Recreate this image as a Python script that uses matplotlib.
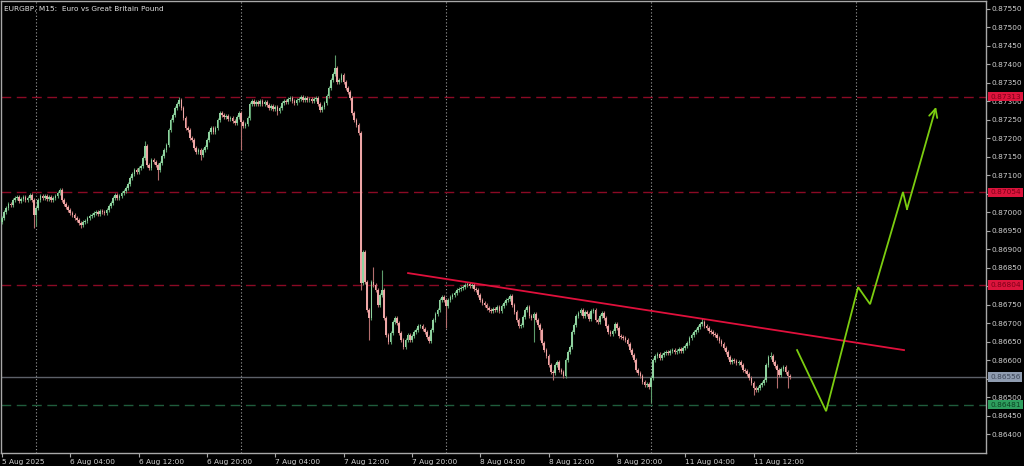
import numpy as np
import matplotlib
matplotlib.use("Agg")
import matplotlib.pyplot as plt

# ---------------- data (EURGBP M15 closes) ----------------
first_open = 0.86975
closes = [
    # 5 Aug 20:00 - 23:45
    0.86985, 0.87001, 0.87012, 0.87023, 0.87020, 0.87033, 0.87039, 0.87042,
    0.87031, 0.87036, 0.87042, 0.87033, 0.87039, 0.87047, 0.87033, 0.86993,
    # 6 Aug 00:00 - 07:45
    0.87012, 0.87033, 0.87044, 0.87039, 0.87044, 0.87036, 0.87042, 0.87033,
    0.87039, 0.87044, 0.87052, 0.87060, 0.87033, 0.87023, 0.87015, 0.87006,
    0.86998, 0.86993, 0.86985, 0.86979, 0.86971, 0.86966, 0.86974, 0.86977,
    0.86985, 0.86990, 0.86993, 0.86998, 0.87001, 0.86996, 0.87004, 0.87001,
    # 6 Aug 08:00 - 15:45
    0.86998, 0.87006, 0.87017, 0.87025, 0.87039, 0.87047, 0.87039, 0.87044,
    0.87052, 0.87058, 0.87066, 0.87077, 0.87093, 0.87104, 0.87115, 0.87109,
    0.87120, 0.87125, 0.87147, 0.87179, 0.87128, 0.87120, 0.87142, 0.87136,
    0.87128, 0.87115, 0.87133, 0.87152, 0.87169, 0.87182, 0.87223, 0.87250,
    # 6 Aug 16:00 - 23:45
    0.87263, 0.87282, 0.87293, 0.87304, 0.87282, 0.87255, 0.87228, 0.87223,
    0.87201, 0.87196, 0.87174, 0.87163, 0.87169, 0.87155, 0.87169, 0.87177,
    0.87196, 0.87217, 0.87228, 0.87217, 0.87228, 0.87250, 0.87269, 0.87263,
    0.87258, 0.87260, 0.87252, 0.87255, 0.87247, 0.87242, 0.87258, 0.87269,
    # 7 Aug 00:00 - 07:45
    0.87244, 0.87233, 0.87239, 0.87255, 0.87293, 0.87301, 0.87293, 0.87298,
    0.87293, 0.87301, 0.87293, 0.87298, 0.87290, 0.87282, 0.87288, 0.87279,
    0.87285, 0.87274, 0.87282, 0.87296, 0.87301, 0.87298, 0.87306, 0.87309,
    0.87301, 0.87296, 0.87304, 0.87306, 0.87312, 0.87304, 0.87309, 0.87304,
    # 7 Aug 08:00 - 15:45
    0.87306, 0.87301, 0.87306, 0.87309, 0.87293, 0.87277, 0.87285, 0.87296,
    0.87315, 0.87336, 0.87358, 0.87374, 0.87390, 0.87352, 0.87358, 0.87371,
    0.87352, 0.87336, 0.87325, 0.87309, 0.87269, 0.87250, 0.87236, 0.87215,
    0.86809, 0.86893, 0.86812, 0.86736, 0.86715, 0.86812, 0.86804, 0.86790,
    # 7 Aug 16:00 - 23:45
    0.86750, 0.86777, 0.86790, 0.86715, 0.86669, 0.86650, 0.86674, 0.86704,
    0.86715, 0.86701, 0.86674, 0.86655, 0.86636, 0.86655, 0.86669, 0.86655,
    0.86666, 0.86677, 0.86682, 0.86693, 0.86693, 0.86685, 0.86677, 0.86663,
    0.86652, 0.86682, 0.86709, 0.86725, 0.86736, 0.86763, 0.86771, 0.86763,
    # 8 Aug 00:00 - 07:45
    0.86747, 0.86763, 0.86771, 0.86777, 0.86782, 0.86790, 0.86793, 0.86796,
    0.86798, 0.86804, 0.86806, 0.86801, 0.86804, 0.86793, 0.86790, 0.86777,
    0.86763, 0.86755, 0.86750, 0.86742, 0.86736, 0.86733, 0.86739, 0.86736,
    0.86744, 0.86733, 0.86747, 0.86755, 0.86763, 0.86766, 0.86774, 0.86750,
    # 8 Aug 08:00 - 15:45
    0.86731, 0.86709, 0.86693, 0.86696, 0.86717, 0.86736, 0.86744, 0.86720,
    0.86715, 0.86725, 0.86709, 0.86696, 0.86682, 0.86647, 0.86628, 0.86612,
    0.86588, 0.86569, 0.86566, 0.86588, 0.86596, 0.86574, 0.86569, 0.86558,
    0.86601, 0.86623, 0.86636, 0.86677, 0.86696, 0.86720, 0.86728, 0.86736,
    # 8 Aug 16:00 - 23:45
    0.86720, 0.86731, 0.86725, 0.86712, 0.86733, 0.86736, 0.86709, 0.86704,
    0.86720, 0.86728, 0.86715, 0.86693, 0.86677, 0.86671, 0.86679, 0.86698,
    0.86688, 0.86666, 0.86663, 0.86660, 0.86655, 0.86644, 0.86628, 0.86615,
    0.86601, 0.86574, 0.86566, 0.86558, 0.86542, 0.86533, 0.86536, 0.86528,
    # 11 Aug 00:00 - 07:45
    0.86552, 0.86601, 0.86612, 0.86617, 0.86606, 0.86615, 0.86620, 0.86623,
    0.86620, 0.86625, 0.86628, 0.86623, 0.86625, 0.86631, 0.86625, 0.86633,
    0.86639, 0.86647, 0.86660, 0.86669, 0.86677, 0.86682, 0.86690, 0.86698,
    0.86704, 0.86693, 0.86688, 0.86679, 0.86677, 0.86671, 0.86669, 0.86660,
    # 11 Aug 08:00 - 16:15
    0.86652, 0.86644, 0.86633, 0.86623, 0.86609, 0.86596, 0.86601, 0.86598,
    0.86593, 0.86596, 0.86588, 0.86574, 0.86571, 0.86563, 0.86552, 0.86539,
    0.86525, 0.86520, 0.86525, 0.86533, 0.86539, 0.86547, 0.86588, 0.86609,
    0.86612, 0.86596, 0.86585, 0.86574, 0.86560, 0.86577, 0.86582, 0.86569,
    0.86558, 0.86556,
]

# bars whose wick reaches further than usual: {bar index: price}
spike_high = {27: 0.87066, 67: 0.87193, 83: 0.87312, 156: 0.87425,
              174: 0.86852, 178: 0.86844, 328: 0.86715, 360: 0.86623}
spike_low = {15: 0.86958, 16: 0.86963, 37: 0.86958, 73: 0.87088, 93: 0.87142,
             112: 0.87169, 129: 0.87263, 168: 0.86790, 172: 0.86655,
             208: 0.86688, 249: 0.86650, 252: 0.86655, 258: 0.86547,
             304: 0.86485, 352: 0.86507, 363: 0.86525, 368: 0.86525}

x_tick_bars = [0, 32, 64, 96, 128, 160, 192, 224, 256, 288, 320, 352]
x_tick_labels = ["5 Aug 2025", "6 Aug 04:00", "6 Aug 12:00", "6 Aug 20:00",
                 "7 Aug 04:00", "7 Aug 12:00", "7 Aug 20:00", "8 Aug 04:00",
                 "8 Aug 12:00", "8 Aug 20:00", "11 Aug 04:00", "11 Aug 12:00"]
separator_bars = [16, 112, 208, 304, 400]

red_levels = [0.87313, 0.87054, 0.86804]
bid_level = 0.86556
green_level = 0.86481
hidden_tick_labels = [0.86800, 0.86550]   # covered by the price tags

trend_x = [190.2, 422.5]
trend_y = [0.86836, 0.86628]
forecast_x = [372.4, 386.0, 401.0, 406.6, 422.0, 423.9, 437.5]
forecast_y = [0.86628, 0.86463, 0.86798, 0.86752, 0.87055, 0.87009, 0.87285]

title = "EURGBP, M15:  Euro vs Great Britain Pound"

# ---------------- figure ----------------
W, H = 1024, 466
fig = plt.figure(figsize=(W / 100, H / 100), dpi=100, facecolor="black")
ax = fig.add_axes([1 / W, (H - 453) / H, 985 / W, 452 / H], facecolor="black")

x_left, x_right = -0.47, 460.9
y_bottom, y_top = 0.86350, 0.87571
ax.set_xlim(x_left, x_right)
ax.set_ylim(y_bottom, y_top)

# candles
c = np.array(closes)
o = np.concatenate([[first_open], c[:-1]])
idx = np.arange(len(c))
wick = 0.00006
hi = np.maximum(o, c) + wick
lo = np.minimum(o, c) - wick
for k, v in spike_high.items():
    hi[k] = max(hi[k], v)
for k, v in spike_low.items():
    lo[k] = min(lo[k], v)
up = c >= o
dn = ~up
body = np.maximum(np.abs(c - o), 0.000015)
bottom = np.minimum(o, c)

bull, bear = "#8fd29f", "#eea6a6"
bull_w, bear_w = "#5d9c6c", "#b46e6e"

ax.vlines(idx[up], lo[up], hi[up], color=bull_w, lw=0.8, zorder=3)
ax.vlines(idx[dn], lo[dn], hi[dn], color=bear_w, lw=0.8, zorder=3)
ax.bar(idx[up], body[up], bottom=bottom[up], width=0.78, color=bull,
       linewidth=0, zorder=4)
ax.bar(idx[dn], body[dn], bottom=bottom[dn], width=0.78, color=bear,
       linewidth=0, zorder=4)

# period separators
for b in separator_bars:
    ax.axvline(b, color="#a0a0a0", lw=0.8, ls=(0, (1, 2)), zorder=1)

# horizontal levels
for lv in red_levels:
    ax.axhline(lv, color="#8a0a24", lw=1.0, ls=(0, (7, 4)), zorder=2)
ax.axhline(bid_level, color="#5c6068", lw=1.0, zorder=2)
ax.axhline(green_level, color="#1f5c3c", lw=1.0, ls=(0, (7, 4)), zorder=2)

# trend line
ax.plot(trend_x, trend_y, color="#e0103c", lw=1.3, zorder=5)

# forecast path
ax.plot(forecast_x[:-1], forecast_y[:-1], color="#7ccd10", lw=1.3, zorder=5,
        solid_joinstyle="miter")
ax.annotate("", xy=(forecast_x[-1], forecast_y[-1]),
            xytext=(forecast_x[-2], forecast_y[-2]),
            arrowprops=dict(arrowstyle="->,head_length=0.6,head_width=0.3",
                            color="#7ccd10", lw=1.3, shrinkA=0, shrinkB=0),
            zorder=5)

# axes styling
for side in ["left", "top", "right", "bottom"]:
    ax.spines[side].set_color("#a8a8a8")
    ax.spines[side].set_linewidth(1.0)

ax.yaxis.tick_right()
yt = np.round(np.arange(0.86400, 0.875501, 0.0005), 5)
ax.set_yticks(yt)
ax.set_yticklabels(["" if any(abs(v - h) < 1e-7 for h in hidden_tick_labels)
                    else f"{v:.5f}" for v in yt])
ax.tick_params(axis="y", direction="out", length=3, width=0.8, colors="#a8a8a8",
               labelcolor="#d0d0d0", labelsize=5.3, pad=1)
ax.set_xticks(x_tick_bars)
ax.set_xticklabels(x_tick_labels, ha="left")
ax.tick_params(axis="x", direction="out", length=3, width=0.8, colors="#a8a8a8",
               labelcolor="#d0d0d0", labelsize=5.3, pad=1.5)

# price labels on the axis
def price_tag(val, bg, fg):
    ax.annotate(f"{val:.5f}", xy=(1.0, val), xycoords=("axes fraction", "data"),
                xytext=(3, 0), textcoords="offset points", va="center",
                ha="left", fontsize=5.3, color=fg, annotation_clip=False,
                bbox=dict(boxstyle="square,pad=0.25", fc=bg, ec="none"),
                zorder=10)

for lv in red_levels:
    price_tag(lv, "#dc143c", "#7a0018")
price_tag(bid_level, "#8f9cb0", "#3c4658")
price_tag(green_level, "#2e9e5e", "#0c4424")

ax.text(3 / 985, 1 - 5 / 452, title, transform=ax.transAxes, ha="left",
        va="top", fontsize=5.3, color="#e0e0e0")

fig.savefig("out.png", dpi=100, facecolor="black")
